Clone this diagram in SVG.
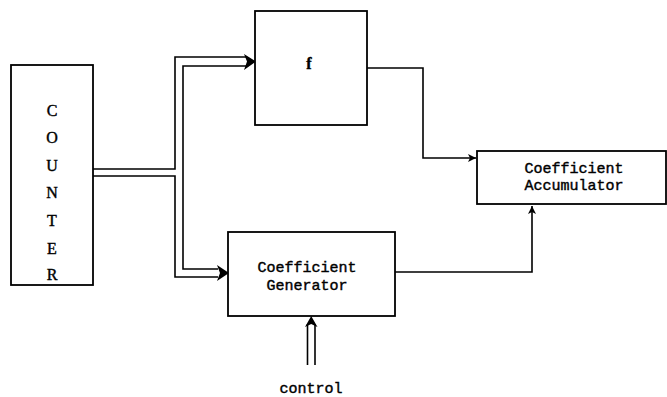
<svg xmlns="http://www.w3.org/2000/svg" width="667" height="397" viewBox="0 0 667 397">
<defs>
<style>
.box{fill:#fff;stroke:#000;stroke-width:1.8}
.ln{fill:none;stroke:#000;stroke-width:1.6}
.mono{font-family:"Liberation Mono","DejaVu Sans Mono",monospace;font-size:15px;text-anchor:middle;fill:#000;stroke:#000;stroke-width:0.4}
.serif{font-family:"Liberation Serif","DejaVu Serif",serif;font-size:16px;text-anchor:middle;fill:#000;stroke:#000;stroke-width:0.4}
</style>
<marker id="ah" markerWidth="10" markerHeight="10" refX="9" refY="5" orient="auto" markerUnits="userSpaceOnUse">
<path d="M1,1 L9,5 L1,9 L3,5 Z" fill="#000"/>
</marker>
</defs>
<rect width="667" height="397" fill="#fff"/>
<g id="connectors">
<polyline class="ln" points="93,169 175,169 175,57 247,57"/>
<polyline class="ln" points="247,66 183,66 183,269 218,269"/>
<polyline class="ln" points="93,176 175,176 175,277 218,277"/>
<path d="M244,54 L256,61.5 L244,70 L247,61.5 Z" fill="#000"/>
<path d="M217,265 L229,273 L217,281 L220,273 Z" fill="#000"/>
<polyline class="ln" points="307.5,365 307.5,324"/>
<polyline class="ln" points="315,365 315,324"/>
<path d="M305,327 L311.2,316 L317.5,327 L311.2,324 Z" fill="#000"/>
<polyline class="ln" points="367,68 423,68 423,158 476,158" marker-end="url(#ah)"/>
<polyline class="ln" points="395,272 532,272 532,206" marker-end="url(#ah)"/>
</g>
<g id="counter">
<rect class="box" x="11" y="65" width="82" height="220"/>
<text class="serif" x="52" y="116">C</text>
<text class="serif" x="52" y="143">O</text>
<text class="serif" x="52" y="171">U</text>
<text class="serif" x="52" y="198">N</text>
<text class="serif" x="52" y="226">T</text>
<text class="serif" x="52" y="254">E</text>
<text class="serif" x="52" y="280">R</text>
</g>
<g id="f">
<rect class="box" x="255" y="11" width="112" height="114"/>
<text class="serif" x="309" y="69" font-size="18" font-weight="bold">f</text>
</g>
<g id="generator">
<rect class="box" x="228" y="232" width="167" height="84"/>
<text class="mono" x="307" y="272">Coefficient</text>
<text class="mono" x="307" y="290">Generator</text>
</g>
<g id="accumulator">
<rect class="box" x="477" y="151" width="189" height="53"/>
<text class="mono" x="574" y="173">Coefficient</text>
<text class="mono" x="574" y="190">Accumulator</text>
</g>
<g id="control">
<text class="mono" x="311" y="393">control</text>
</g>
</svg>
